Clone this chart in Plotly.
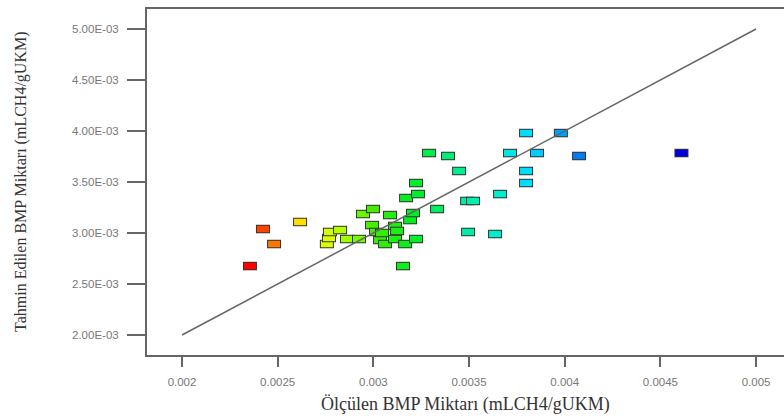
import plotly.graph_objects as go
from plotly.colors import sample_colorscale

# Measured (x) and predicted (y) BMP values
measured = [0.002355, 0.002423, 0.002481, 0.002617, 0.002757, 0.002768, 0.002773, 0.002826,
            0.002862, 0.002925, 0.002946, 0.002998, 0.002993, 0.003014, 0.003035, 0.003045,
            0.003061, 0.003087, 0.003113, 0.003113, 0.003124, 0.003155, 0.003166, 0.003171,
            0.003192, 0.003207, 0.003223, 0.003223, 0.003233, 0.003291, 0.003333, 0.003390,
            0.003448, 0.003490, 0.003521, 0.003495, 0.003636, 0.003662, 0.003714, 0.003798,
            0.003855, 0.003798, 0.003798, 0.003980, 0.004075, 0.004610]
predicted = [0.002676, 0.003039, 0.002892, 0.003108, 0.002892, 0.002951, 0.003010, 0.003029,
             0.002941, 0.002941, 0.003186, 0.003235, 0.003078, 0.003010, 0.002931, 0.003000,
             0.002892, 0.003176, 0.002941, 0.003069, 0.003020, 0.002676, 0.002892, 0.003343,
             0.003127, 0.003196, 0.003490, 0.002941, 0.003382, 0.003784, 0.003235, 0.003755,
             0.003608, 0.003314, 0.003314, 0.003010, 0.002990, 0.003382, 0.003784, 0.003980,
             0.003784, 0.003608, 0.003490, 0.003980, 0.003755, 0.003784]

ref_line = [0.002, 0.005]

x_ticks = [0.002, 0.0025, 0.003, 0.0035, 0.004, 0.0045, 0.005]
x_ticktext = ["0.002", "0.0025", "0.003", "0.0035", "0.004", "0.0045", "0.005"]
y_ticks = [0.002, 0.0025, 0.003, 0.0035, 0.004, 0.0045, 0.005]
y_ticktext = ["2.00E-03", "2.50E-03", "3.00E-03", "3.50E-03", "4.00E-03", "4.50E-03", "5.00E-03"]

x_title = "Ölçülen BMP Miktarı (mLCH4/gUKM)"
y_title = "Tahmin Edilen BMP Miktarı (mLCH4/gUKM)"

colorscale = [
    [0.0, "#ff0000"], [0.03, "#ff4400"], [0.056, "#ff7700"], [0.116, "#ffdd00"],
    [0.18, "#ddff00"], [0.24, "#88ff00"], [0.286, "#44ee00"], [0.375, "#00ee22"],
    [0.46, "#00ee77"], [0.51, "#00eeaa"], [0.574, "#00eecc"], [0.64, "#00ddff"],
    [0.73, "#0099ff"], [0.77, "#0077ee"], [1.0, "#0000dd"],
]
cmin, cmax = min(measured), max(measured)
point_colors = sample_colorscale(colorscale, [(v - cmin) / (cmax - cmin) for v in measured])

fig = go.Figure()

# each point: dark outline then coloured fill, so overlapping markers keep borders
for xv, yv, col in zip(measured, predicted, point_colors):
    fig.add_trace(go.Scatter(
        x=[xv], y=[yv], mode="markers",
        marker=dict(symbol="line-ew", size=10, color="#333333",
                    line=dict(width=8.5, color="#333333")),
        hoverinfo="skip", showlegend=False,
    ))
    fig.add_trace(go.Scatter(
        x=[xv], y=[yv], mode="markers",
        marker=dict(symbol="line-ew", size=8.6, color=col,
                    line=dict(width=6.5, color=col)),
        showlegend=False,
    ))

# reference line
fig.add_trace(go.Scatter(
    x=ref_line, y=ref_line, mode="lines",
    line=dict(color="#666666", width=1.5), showlegend=False, hoverinfo="skip",
))

tickfont = dict(family="Liberation Sans, Arial, sans-serif", size=11.5, color="#777777")

fig.update_layout(
    width=784, height=420,
    margin=dict(l=147, r=0, t=9, b=65),
    paper_bgcolor="white", plot_bgcolor="white",
    xaxis=dict(range=[0.001817, 0.005146], tickvals=x_ticks, ticktext=x_ticktext,
               showgrid=False, zeroline=False, showline=True, linecolor="#666666",
               linewidth=2, mirror=True, ticks="outside", ticklen=10, tickwidth=1.5,
               tickcolor="#666666", tickfont=tickfont, ticklabelstandoff=5),
    yaxis=dict(range=[0.001804, 0.005196], tickvals=y_ticks, ticktext=y_ticktext,
               showgrid=False, zeroline=False, showline=True, linecolor="#666666",
               linewidth=2, mirror=False, ticks="outside", ticklen=18, tickwidth=1.5,
               tickcolor="#666666", tickfont=tickfont, ticklabelstandoff=6),
    annotations=[
        dict(text=x_title, xref="paper", yref="paper", x=0.5, y=-0.1445,
             showarrow=False, xanchor="center", yanchor="middle",
             font=dict(family="Liberation Serif, Times New Roman, serif", size=18, color="#333333")),
        dict(text=y_title, xref="paper", yref="paper", x=-0.1978, y=0.5,
             showarrow=False, xanchor="center", yanchor="middle", textangle=-90,
             font=dict(family="Liberation Serif, Times New Roman, serif", size=16, color="#333333")),
    ],
)

fig.write_html("out.html")
